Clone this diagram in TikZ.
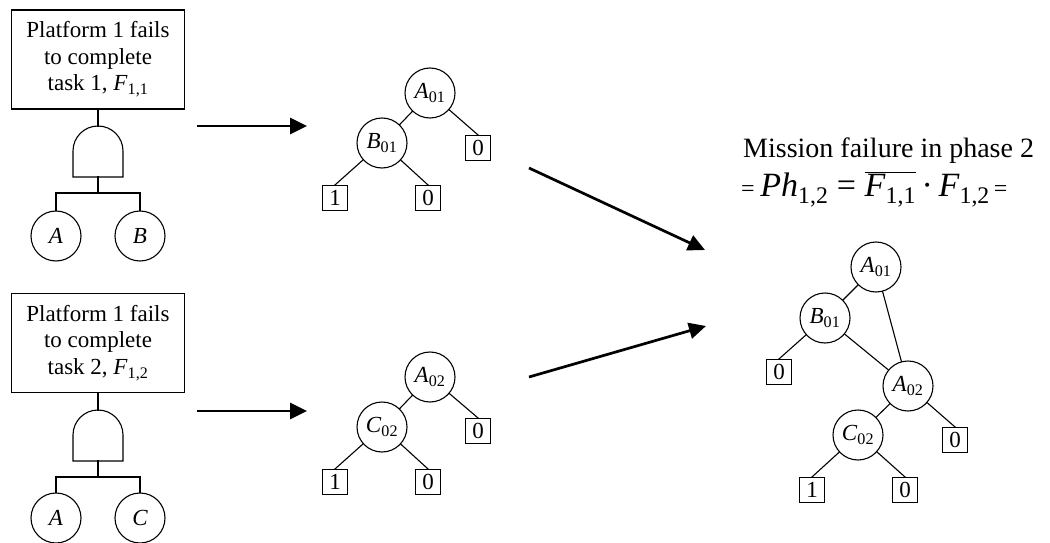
\documentclass[tikz,border=0pt]{standalone}
\usepackage{fontspec}
\setmainfont{Liberation Serif}
\usetikzlibrary{arrows.meta}
\newcommand{\ivar}[2]{\textit{#1}\textsubscript{#2}}

\begin{document}
\begin{tikzpicture}[x=1pt,y=-1pt,line cap=rect,
  topbox/.style={draw, line width=1.1pt, minimum width=173, minimum height=99, inner sep=0, align=center, font=\fontsize{23}{26.5}\selectfont},
  basicev/.style={draw, circle, line width=1.1pt, minimum size=50, inner sep=0, font=\fontsize{23}{23}\selectfont\itshape},
  bddnode/.style={draw, circle, line width=1.1pt, minimum size=50, inner sep=0, font=\fontsize{23}{23}\selectfont},
  termbox/.style={draw, line width=1.1pt, minimum size=25, inner sep=0, font=\fontsize{23}{23}\selectfont},
  wire/.style={line width=1.1pt},
  fatarrow/.style={line width=2.7pt, line cap=butt, -{Triangle[length=17pt,width=16pt]}}]
\useasboundingbox (0,0) rectangle (1050,543);
% fault tree, task 1
\node[topbox] (top1) at (98,59.5) {Platform 1 fails\\to complete\\task 1, \ivar{F}{1,1}};
\coordinate (gt1) at (98,126);
\coordinate (gb1) at (98,177);
\coordinate (j1) at (98,193);
\draw[wire] (gb1) ++(-25,0) -- ++(0,-26) arc[start angle=180, end angle=360, radius=25] -- ++(0,26) -- cycle;
\node[basicev] (evA1) at (56,236) {A};
\node[basicev] (evB1) at (140,236) {B};
\draw[wire] (top1.south) -- (gt1);
\draw[wire] (gb1) -- (j1);
\draw[wire] (evA1.north) |- (j1) -| (evB1.north);
% fault tree, task 2
\node[topbox] (top2) at (98,343) {Platform 1 fails\\to complete\\task 2, \ivar{F}{1,2}};
\coordinate (gt2) at (98,410);
\coordinate (gb2) at (98,461);
\coordinate (j2) at (98,477);
\draw[wire] (gb2) ++(-25,0) -- ++(0,-26) arc[start angle=180, end angle=360, radius=25] -- ++(0,26) -- cycle;
\node[basicev] (evA2) at (56,518) {A};
\node[basicev] (evC2) at (140,518) {C};
\draw[wire] (top2.south) -- (gt2);
\draw[wire] (gb2) -- (j2);
\draw[wire] (evA2.north) |- (j2) -| (evC2.north);
% arrows
\coordinate (ha1) at (197,126);
\coordinate (hb1) at (307,126);
\coordinate (ha2) at (197,411);
\coordinate (hb2) at (307,411);
\coordinate (da1) at (529,168);
\coordinate (db1) at (705,250);
\coordinate (da2) at (529,377);
\coordinate (db2) at (706,326);
\draw[fatarrow] (ha1) -- (hb1);
\draw[fatarrow] (ha2) -- (hb2);
\draw[fatarrow] (da1) -- (db1);
\draw[fatarrow] (da2) -- (db2);
% BDD of task 1
\node[bddnode] (pA1) at (430,93) {\ivar{A}{01}};
\node[bddnode] (pB1) at (382,143) {\ivar{B}{01}};
\node[termbox] (pA1z) at (478,148) {0};
\node[termbox] (pB1o) at (335,198) {1};
\node[termbox] (pB1z) at (428,198) {0};
\draw[wire] (pA1) -- (pB1);
\draw[wire] (pA1) -- (pA1z.north);
\draw[wire] (pB1) -- (pB1o.north);
\draw[wire] (pB1) -- (pB1z.north);
% BDD of task 2
\node[bddnode] (qA2) at (430,377) {\ivar{A}{02}};
\node[bddnode] (qC2) at (382,427) {\ivar{C}{02}};
\node[termbox] (qA2z) at (478,431) {0};
\node[termbox] (qC2o) at (335,482) {1};
\node[termbox] (qC2z) at (428,482) {0};
\draw[wire] (qA2) -- (qC2);
\draw[wire] (qA2) -- (qA2z.north);
\draw[wire] (qC2) -- (qC2o.north);
\draw[wire] (qC2) -- (qC2z.north);
% mission failure, phase 2
\node[inner sep=0, anchor=base west, font=\fontsize{28}{28}\selectfont] (mtxt) at (743,157) {Mission failure in phase 2};
\node[inner sep=0, anchor=base west] (mform) at (741,196) {\fontsize{24}{24}\selectfont=\fontsize{34}{34}\selectfont\,\ivar{Ph}{1,2} = $\overline{\hbox{\ivar{F}{1,1}}}$\,·\,\ivar{F}{1,2}\fontsize{24}{24}\selectfont\,=};
\node[bddnode] (rA1) at (876,267) {\ivar{A}{01}};
\node[bddnode] (rB1) at (825,318) {\ivar{B}{01}};
\node[termbox] (rB1z) at (779,372) {0};
\node[bddnode] (rA2) at (908,386) {\ivar{A}{02}};
\node[bddnode] (rC2) at (858,435) {\ivar{C}{02}};
\node[termbox] (rA2z) at (955,440) {0};
\node[termbox] (rC2o) at (812,490) {1};
\node[termbox] (rC2z) at (905,490) {0};
\draw[wire] (rA1) -- (rB1);
\draw[wire] (rA1) -- (rA2);
\draw[wire] (rB1) -- (rB1z.north);
\draw[wire] (rB1) -- (rA2);
\draw[wire] (rA2) -- (rC2);
\draw[wire] (rA2) -- (rA2z.north);
\draw[wire] (rC2) -- (rC2o.north);
\draw[wire] (rC2) -- (rC2z.north);
\end{tikzpicture}
\end{document}
